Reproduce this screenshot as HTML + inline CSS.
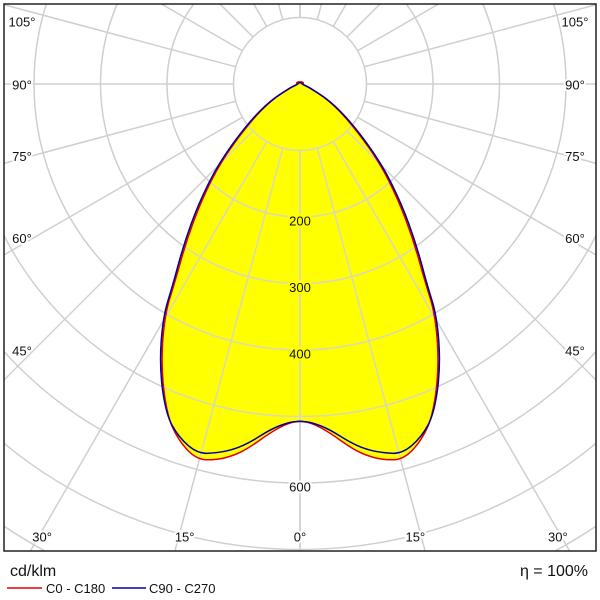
<!DOCTYPE html>
<html><head><meta charset="utf-8"><style>
html,body{margin:0;padding:0;background:#fff;width:600px;height:600px;overflow:hidden}
svg{display:block;font-family:"Liberation Sans",Verdana,sans-serif}
</style></head><body>
<svg id="c" width="600" height="600" viewBox="0 0 600 600">
<defs><clipPath id="frame"><rect x="4" y="4" width="592" height="547"/></clipPath></defs>
<g id="grid" clip-path="url(#frame)"></g>
<g id="curves" clip-path="url(#frame)"></g>
<g id="labels"></g>
<rect x="4" y="4" width="592" height="547" fill="none" stroke="#222" stroke-width="1.5"/>
<text x="10" y="576" font-size="16" fill="#111">cd/klm</text>
<line x1="7" y1="588" x2="42" y2="588" stroke="#e00000" stroke-width="1.5"/>
<text x="46" y="593" font-size="13" fill="#111">C0 - C180</text>
<line x1="112" y1="588" x2="146" y2="588" stroke="#0000a0" stroke-width="1.5"/>
<text x="149" y="593" font-size="13" fill="#111">C90 - C270</text>
<text x="588" y="576" font-size="16" fill="#111" text-anchor="end">η = 100%</text>
</svg>
<script>
const angles = [0,2,5,7.8,10,12.5,15.4,18.9,22.1,26.5,30.5,32.3,36,40.3,45.9,53.3,60.5,68,75,90,110,150,180];
const redValues = [507,510,527,551,567,579,586,566,534,469,400,352,290,229,164,91,49,16,6,4,6,4,3];
const blueValues = [507,509,522,543,557,568,577,562,536,474,406,358,297,236,170,96,52,18,7,3,3,2,2];
const ringValues = [100,200,300,400,500,600,700,800,900];
const ringLabels = ["200","300","400","600"];
const angleTicks = [105,90,75,60,45];
const bottomTicks = [30,15,0];

const CX = 300, CY = 84, SCALE = 0.665;
const NS = "http://www.w3.org/2000/svg";
function rPx(v){ return v*SCALE; }
function pt(angleDeg, v, side){
  const a = angleDeg*Math.PI/180;
  return [CX + side*Math.sin(a)*rPx(v), CY + Math.cos(a)*rPx(v)];
}
function mk(tag, attrs, parent){
  const e = document.createElementNS(NS, tag);
  for (const k in attrs) e.setAttribute(k, attrs[k]);
  parent.appendChild(e); return e;
}
const grid = document.getElementById('grid');
ringValues.forEach(v=>{
  const c = mk('circle',{cx:CX,cy:CY,r:rPx(v),fill:'none',stroke:'#cfcfcf','stroke-width':1.5},grid);
  
  
});
for (let a=0; a<=180; a+=15){
  [1,-1].forEach(s=>{
    const p1 = pt(a,100,s), p2 = pt(a,1000,s);
    const l = mk('line',{x1:p1[0],y1:p1[1],x2:p2[0],y2:p2[1],stroke:'#cfcfcf','stroke-width':1.5},grid);
    
    
  });
}
const curves = document.getElementById('curves');
function pathFor(vals){
  const pts = [];
  for (let s of [1,-1]){
    const seq = [];
    for (let i=0;i<angles.length;i++) seq.push(pt(angles[i],vals[i],s));
    if (s===-1) seq.reverse();
    pts.push(...seq);
  }
  // smooth with quadratic midpoints
  let d = '';
  const n = pts.length;
  const mid = (p,q)=>[(p[0]+q[0])/2,(p[1]+q[1])/2];
  const m0 = mid(pts[n-1],pts[0]);
  d = 'M'+m0[0].toFixed(1)+','+m0[1].toFixed(1);
  for (let i=0;i<n;i++){
    const p = pts[i], m = mid(pts[i], pts[(i+1)%n]);
    d += 'Q'+p[0].toFixed(1)+','+p[1].toFixed(1)+' '+m[0].toFixed(1)+','+m[1].toFixed(1);
  }
  return d+'Z';
}
const redD = pathFor(redValues), blueD = pathFor(blueValues);
const f1 = mk('path',{d:redD,fill:'#ffff00',stroke:'none'},curves);


const f2 = mk('path',{d:blueD,fill:'#ffff00',stroke:'none'},curves);


const gi = mk('g',{},curves);


const cp = mk('clipPath',{id:'fillclip'},document.querySelector('defs'));
mk('path',{d:redD},cp); mk('path',{d:blueD},cp);
gi.setAttribute('clip-path','url(#fillclip)');
ringValues.forEach(v=>{ mk('circle',{cx:CX,cy:CY,r:rPx(v),fill:'none',stroke:'#d8d8c0','stroke-width':1.5},gi); });
for (let a=0;a<=180;a+=15){ [1,-1].forEach(s=>{ const p1=pt(a,100,s),p2=pt(a,1000,s); mk('line',{x1:p1[0],y1:p1[1],x2:p2[0],y2:p2[1],stroke:'#d8d8c0','stroke-width':1.5},gi); }); }
const red = mk('path',{d:redD,fill:'none',stroke:'#e00000','stroke-width':1.5},curves);


const blue = mk('path',{d:blueD,fill:'none',stroke:'#0000a0','stroke-width':1.5},curves);



const labels = document.getElementById('labels');
function txt(x,y,s,halo,name){
  const t = mk('text',{x:x,y:y,'font-size':13,fill:'#111','text-anchor':'middle','dominant-baseline':'central',stroke:halo,'stroke-width':4,'paint-order':'stroke'},labels);
  t.textContent = s;
  
  
}
ringLabels.forEach(s=>{
  const v = +s;
  const y = CY + rPx(v) + 4;
  txt(CX, y, s, v>=550?'#fff':'#ffff00', 'ring-label-'+s);
});
angleTicks.forEach(a=>{
  const dy = 285*Math.tan((a-90)*Math.PI/180);
  const y = CY - dy + (a===90?1:(a===75?-4:(a===60?-10:-18)));
  const yy = a===105?22:y;
  txt(22, yy, a+'°', '#fff', 'angle-label-left-'+a);
  txt(575, yy, a+'°', '#fff', 'angle-label-right-'+a);
});
bottomTicks.forEach(a=>{
  const dx = 464*Math.tan(a*Math.PI/180);
  const off = a===30?-10:(a===15?-9:0);
  txt(CX - dx - off, 537, a+'°', '#fff', 'angle-label-bottom-left-'+a);
  if (a!==0) txt(CX + dx + off, 537, a+'°', '#fff', 'angle-label-bottom-right-'+a);
});
</script>
</body></html>
